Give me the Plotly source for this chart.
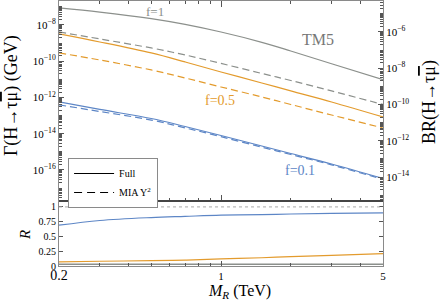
import plotly.graph_objects as go
import math
import numpy as np

# ---------------- data ----------------
MR = [0.2, 0.3, 0.5, 0.7, 1.0, 1.5, 2.0, 3.0, 5.0]  # TeV

gamma_full_f1 = [8.67e-8, 5.15e-8, 2.23e-8, 1.07e-8, 4.06e-9, 1.10e-9, 3.66e-10, 7.23e-11, 9.70e-12]
gamma_mia_f1 = [4.11e-9, 1.69e-9, 5.38e-10, 2.21e-10, 7.52e-11, 2.11e-11, 8.67e-12, 2.29e-12, 4.11e-13]
gamma_full_f05 = [3.18e-9, 1.15e-9, 2.85e-10, 9.10e-11, 2.55e-11, 6.31e-12, 2.29e-12, 5.65e-13, 8.39e-14]
gamma_mia_f05 = [2.85e-10, 1.17e-10, 3.29e-11, 1.19e-11, 3.79e-12, 1.07e-12, 4.11e-13, 1.08e-13, 2.07e-14]
gamma_full_f01 = [5.65e-13, 2.18e-13, 6.93e-14, 2.51e-14, 8.00e-15, 2.11e-15, 8.13e-16, 2.14e-16, 3.40e-17]
gamma_mia_f01 = [3.91e-13, 1.68e-13, 5.69e-14, 2.11e-14, 6.87e-15, 1.83e-15, 7.16e-16, 1.91e-16, 3.05e-17]

R_f01 = [0.69, 0.77, 0.82, 0.84, 0.86, 0.87, 0.88, 0.89, 0.90]
R_f05 = [0.07, 0.08, 0.09, 0.10, 0.12, 0.14, 0.16, 0.18, 0.21]
R_f1 = [0.03, 0.03, 0.03, 0.03, 0.03, 0.03, 0.03, 0.03, 0.03]

GAMMA_H = 4.1e-3  # GeV, SM Higgs width linking the two vertical scales

left_label_exp = [-16, -14, -12, -10, -8]
right_label_exp = [-14, -12, -10, -8, -6]
x_tick_vals = [0.2, 1, 5]
x_tick_text = ["<span style='font-size:14px'>0.2</span>", "1", "5"]
x_minor_vals = [0.3, 0.4, 0.5, 0.6, 0.7, 0.8, 0.9, 2, 3, 4]
R_tick_vals = [0, 0.25, 0.5, 0.75, 1]
R_tick_text = ["0", "0.25", "0.5", "0.75", "1"]

# ---------------- styling ----------------
GRAY = "#8c908c"
ORANGE = "#e39b2d"
BLUE = "#5d86c6"
FRAME = "#8a8a8a"
FONT = "Liberation Serif"
DASH = "7px,4px"
LW = 1.2

log10 = np.log10


def exp_label(e):
    return "10<sup>\u2212%d</sup>" % (-e)


def minor_vals(emin, emax, labelled):
    out = []
    for e in range(emin, emax + 1):
        if e not in labelled:
            out.append(10.0 ** e)
        for k in range(2, 10):
            out.append(k * 10.0 ** e)
    return out


fig = go.Figure()

series = [
    (gamma_full_f1, gamma_mia_f1, GRAY, "f=1"),
    (gamma_full_f05, gamma_mia_f05, ORANGE, "f=0.5"),
    (gamma_full_f01, gamma_mia_f01, BLUE, "f=0.1"),
]
for full, mia, col, name in series:
    fig.add_trace(go.Scatter(x=MR, y=full, mode="lines",
                             line=dict(color=col, width=LW, shape="spline", smoothing=1.0),
                             showlegend=False, xaxis="x", yaxis="y", name=name + " Full"))
    fig.add_trace(go.Scatter(x=MR, y=mia, mode="lines",
                             line=dict(color=col, width=LW, dash=DASH, shape="spline", smoothing=1.0),
                             showlegend=False, xaxis="x", yaxis="y", name=name + " MIA"))

# invisible trace on right axis so it is drawn
fig.add_trace(go.Scatter(x=MR, y=[g / GAMMA_H for g in gamma_full_f1], mode="lines",
                         line=dict(width=0), opacity=0, showlegend=False, hoverinfo="skip",
                         xaxis="x", yaxis="y3"))

# legend entries
fig.add_trace(go.Scatter(x=[None], y=[None], mode="lines", line=dict(color="black", width=LW),
                         name="Full", xaxis="x", yaxis="y"))
fig.add_trace(go.Scatter(x=[None], y=[None], mode="lines", line=dict(color="black", width=LW, dash="8px,5px"),
                         name="MIA Y<sup>2</sup>", xaxis="x", yaxis="y"))

# lower panel: ratio R
for r, col in [(R_f01, BLUE), (R_f05, ORANGE), (R_f1, GRAY)]:
    fig.add_trace(go.Scatter(x=MR, y=r, mode="lines",
                             line=dict(color=col, width=1.6 if col == GRAY else LW, shape="spline"),
                             showlegend=False, xaxis="x2", yaxis="y2"))

split = 65 / 265.0

ylo, yhi = -17.71, -6.68
shift = math.log10(1 / GAMMA_H)

fig.update_layout(
    width=441, height=303,
    margin=dict(l=59, r=58, t=1, b=37, autoexpand=False),
    paper_bgcolor="white", plot_bgcolor="white",
    font=dict(family=FONT, size=11, color="black"),
    xaxis=dict(type="log", range=[log10(0.2), log10(5)], domain=[0, 1], anchor="y",
               showticklabels=False, showgrid=False, zeroline=False,
               showline=True, linecolor=FRAME, linewidth=1, mirror="ticks",
               ticks="inside", tickvals=[1], ticklen=6, tickcolor="#555",
               minor=dict(ticks="inside", tickvals=x_minor_vals, ticklen=3, tickcolor="#555")),
    yaxis=dict(type="log", range=[ylo, yhi], domain=[split, 1], anchor="x",
               showgrid=False, zeroline=False, showline=True, linecolor=FRAME, linewidth=1,
               ticks="inside", tickvals=[10.0 ** e for e in left_label_exp],
               ticktext=[exp_label(e) for e in left_label_exp],
               ticklen=5, tickcolor="#555", tickfont=dict(size=11),
               minor=dict(ticks="inside", tickvals=minor_vals(-18, -7, left_label_exp),
                          ticklen=3, tickcolor="#555")),
    yaxis3=dict(type="log", range=[ylo + shift, yhi + shift], overlaying="y", side="right", anchor="x",
                showgrid=False, zeroline=False, showline=True, linecolor=FRAME, linewidth=1,
                ticks="inside", tickvals=[10.0 ** e for e in right_label_exp],
                ticktext=[exp_label(e) for e in right_label_exp],
                ticklen=5, tickcolor="#555", tickfont=dict(size=11),
                minor=dict(ticks="inside", tickvals=minor_vals(-16, -5, right_label_exp),
                           ticklen=3, tickcolor="#555")),
    xaxis2=dict(type="log", range=[log10(0.2), log10(5)], domain=[0, 1], anchor="y2", matches="x",
                showgrid=False, zeroline=False, showline=True, linecolor=FRAME, linewidth=1, mirror=True,
                ticks="inside", tickvals=x_tick_vals, ticktext=x_tick_text, ticklen=5, tickcolor="#555",
                tickfont=dict(size=11),
                minor=dict(ticks="inside", tickvals=x_minor_vals, ticklen=3, tickcolor="#555")),
    yaxis2=dict(range=[0, 1.1], domain=[0, split], anchor="x2",
                showgrid=False, zeroline=False, showline=True, linecolor=FRAME, linewidth=1, mirror="ticks",
                ticks="inside", tickvals=R_tick_vals, ticktext=R_tick_text, ticklen=4, tickcolor="#555",
                tickfont=dict(size=10)),
    legend=dict(x=0.028, y=0.4075, xanchor="left", yanchor="top", bgcolor="white",
                bordercolor=FRAME, borderwidth=1, font=dict(size=10, family=FONT),
                itemwidth=40, tracegroupgap=0),
    showlegend=True,
)

# R = 1 reference and panel separator
fig.add_shape(type="line", xref="x2 domain", yref="y2", x0=0, x1=1, y0=1, y1=1,
              line=dict(color="#aaaaaa", width=1, dash="3px,3px"))
fig.add_shape(type="line", xref="paper", yref="paper", x0=0, x1=1, y0=split, y1=split,
              line=dict(color="black", width=1.2))

MU_BAR = "<span style='text-decoration:overline'>\u03bc</span>"
ann = [
    dict(text="\u0393(H\u2192\u03c4" + MU_BAR + ") (GeV)", x=-0.148, y=0.6415, textangle=-90, size=18, color="black"),
    dict(text="BR(H\u2192\u03c4" + MU_BAR + ")", x=1.145, y=0.619, textangle=-90, size=18, color="black"),
    dict(text="<i>R</i>", x=-0.105, y=0.117, textangle=-90, size=15, color="black"),
    dict(text="<i>M<sub>R</sub></i> (TeV)", x=0.5586, y=-0.098, textangle=0, size=16, color="black"),
    dict(text="f=1", x=0.296, y=0.962, textangle=0, size=13, color=GRAY),
    dict(text="TM5", x=0.799, y=0.853, textangle=0, size=16, color="#777777"),
    dict(text="f=0.5", x=0.497, y=0.626, textangle=0, size=14, color=ORANGE),
    dict(text="f=0.1", x=0.744, y=0.362, textangle=0, size=14, color=BLUE),
]
for a in ann:
    fig.add_annotation(text=a["text"], xref="paper", yref="paper", x=a["x"], y=a["y"],
                       xanchor="center", yanchor="middle", showarrow=False, textangle=a["textangle"],
                       font=dict(family=FONT, size=a["size"], color=a["color"]))

fig.write_html("out.html", config={"displayModeBar": False},
               post_script="document.body.style.margin='0';document.body.style.overflow='hidden';")
